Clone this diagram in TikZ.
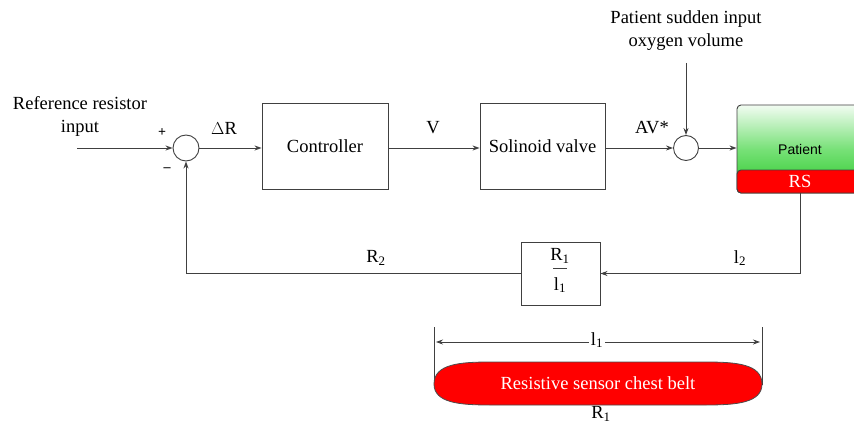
\documentclass[tikz,border=0pt]{standalone}
\usepackage{fontspec}
\setmainfont{Liberation Serif}
\newfontfamily\patientfont{Liberation Sans}
\usetikzlibrary{
    positioning,
    arrows.meta
}
\newcommand{\diagfont}{\fontsize{18.5}{23}\selectfont}
\tikzset{
    >={Stealth[length=7pt,width=5pt]},
    block/.style={
        draw=black!75,
        line width=0.9pt,
        minimum width=126pt,
        minimum height=86pt,
        inner sep=2pt
    },
    sumnode/.style={
        circle,
        draw=black!75,
        line width=0.9pt,
        minimum size=26pt,
        inner sep=0pt
    },
    signal/.style={
        draw=black!75,
        line width=0.9pt,
        ->
    },
    patientbox/.style={
        draw=black!75,
        line width=0.9pt,
        rounded corners=4pt,
        minimum width=126pt,
        minimum height=88pt,
        top color={rgb,255:red,242;green,252;blue,242},
        bottom color={rgb,255:red,40;green,200;blue,40},
        middle color={rgb,255:red,120;green,225;blue,120}
    },
    rsbar/.style={
        draw=black!75,
        line width=0.9pt,
        rounded corners=4pt,
        fill=red,
        text=white,
        minimum width=126pt,
        minimum height=23pt,
        inner sep=0pt
    }
}

\begin{document}
\begin{tikzpicture}[
    x=1pt,
    y=-1pt,
    font=\diagfont
]
    \useasboundingbox (0,0) rectangle (854,425);

    % Bloques
    \node[sumnode]                  (sum1)  at (186,148)   {};
    \node[block]                    (ctrl)  at (325,146)   {Controller};
    \node[block, minimum width=125pt] (valve) at (542.5,146) {Solinoid valve};
    \node[sumnode, minimum size=25pt] (sum2) at (686,148)  {};
    \node[patientbox]               (pat)   at (800,149)   {\patientfont\fontsize{14}{16}\selectfont Patient};
    \node[rsbar]                    (rs)    at (800,181.5) {RS};
    \node[block, minimum width=79pt, minimum height=63pt] (gain) at (560.5,273.5) {};

    % Ganancia R1/l1
    \node (gnum) at (560,256) {R\textsubscript{1}};
    \node (gden) at (560,285) {l\textsubscript{1}};
    \draw[black!75, line width=0.5pt]
        ([xshift=-7pt, yshift=-1pt]gnum.south) -- ([xshift=7pt, yshift=-1pt]gnum.south);

    % Entradas
    \coordinate (ref)  at (77,148);
    \coordinate (dist) at (686,63);

    % Senales
    \draw[signal] (ref) -- (sum1);
    \draw[signal] (sum1) -- (sum1 -| ctrl.west);
    \draw[signal] (sum1 -| ctrl.east) -- (sum1 -| valve.west);
    \draw[signal] (sum2 -| valve.east) -- (sum2);
    \draw[signal] (sum2) -- (sum2 -| pat.west);
    \draw[signal] (dist) -- (sum2);

    % Realimentacion
    \draw[signal] (rs.south) |- (gain.east);
    \draw[signal] (gain.west) -| (sum1.south);

    % Etiquetas
    \node[align=center] (reflbl)  at (80,116)  {Reference resistor\\input};
    \node[align=center] (distlbl) at (686,31)  {Patient sudden input\\oxygen volume};
    \node (plus)  at (162,133) {\fontsize{14}{14}\selectfont\bfseries +};
    \node (minus) at (167,170) {\fontsize{14}{14}\selectfont\bfseries --};
    \node (dr)    at (224,128) {$\Delta$R};
    \node (v)     at (433,128) {V};
    \node (av)    at (652,128) {AV*};
    \node (r2)    at (376,258) {R\textsubscript{2}};
    \node (l2)    at (740,258) {l\textsubscript{2}};

    % Cinturon sensor
    \draw[black!75, line width=0.8pt] (434,327) -- (434,385);
    \draw[black!75, line width=0.8pt] (762,327) -- (762,385);
    \draw[black!75, line width=0.8pt, <->] (436,342) -- (760,342);
    \node[fill=white, inner sep=2pt] (l1) at (597,340) {l\textsubscript{1}};

    \draw[draw=black!70, line width=0.8pt, fill=red]
        (434,384) .. controls (434,364) and (460,362) .. (490,362)
        -- (706,362)
        .. controls (736,362) and (762,364) .. (762,384)
        .. controls (762,403) and (736,405) .. (706,405)
        -- (490,405)
        .. controls (460,405) and (434,403) .. (434,384) -- cycle;
    \node[text=white] (belt) at (598,383) {Resistive sensor chest belt};
    \node (r1) at (601,414) {R\textsubscript{1}};

\end{tikzpicture}
\end{document}
